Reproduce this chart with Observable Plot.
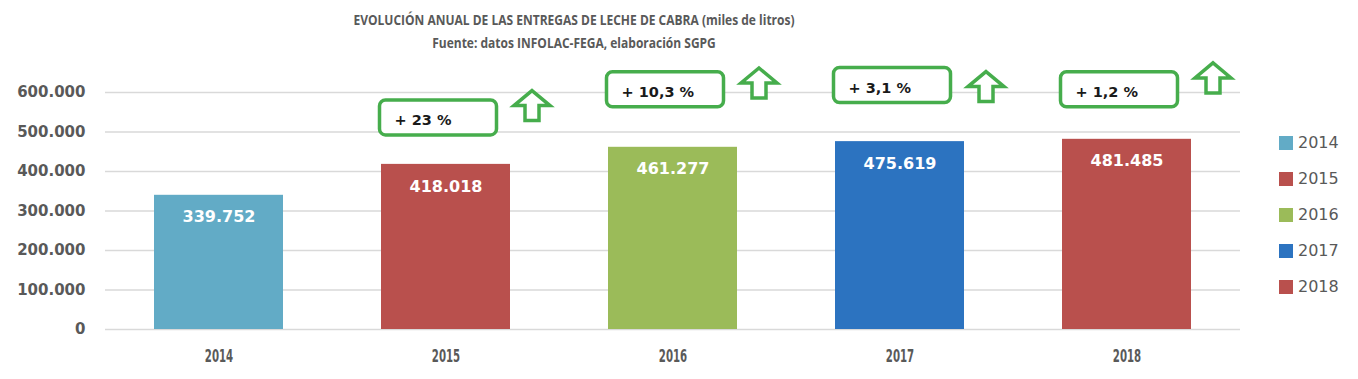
<!DOCTYPE html>
<html>
<head>
<meta charset="utf-8">
<script src="https://cdn.jsdelivr.net/npm/d3@7"></script>
<script src="https://cdn.jsdelivr.net/npm/@observablehq/plot@0.6"></script>
<style>
  html, body { margin: 0; padding: 0; background: #fff; }
  #wrap { position: relative; width: 1358px; height: 379px; overflow: hidden; }
  #title { position: absolute; left: 0; top: 8px; width: 1148px; text-align: center;
    font-family: "Open Sans", sans-serif; font-weight: bold;
    font-size: 15px; line-height: 23px; color: #595959;
    transform: scaleX(0.8); transform-origin: center top; }
  #chart { position: absolute; left: 0; top: 58px; }
  #legend { position: absolute; left: 1279px; top: 133px; font-family: "DejaVu Sans", sans-serif;
    font-size: 16px; color: #595959; }
  #legend .item { height: 36px; display: flex; align-items: flex-start; }
  #legend .sw { width: 14px; height: 14px; margin-right: 5px; margin-top: 3px; }
</style>
</head>
<body>
<div id="wrap">
  <div id="title">EVOLUCIÓN ANUAL DE LAS ENTREGAS DE LECHE DE CABRA (miles de litros)<br>Fuente: datos INFOLAC-FEGA, elaboración SGPG</div>
  <div id="chart"></div>
  <div id="legend"></div>
</div>
<script>
// ---- data ----
const years = ["2014", "2015", "2016", "2017", "2018"];
const values = [339752, 418018, 461277, 475619, 481485];
const yTicks = [0, 100000, 200000, 300000, 400000, 500000, 600000];
const annoYears = ["2015", "2016", "2017", "2018"];
const annoLabels = ["+ 23 %", "+ 10,3 %", "+ 3,1 %", "+ 1,2 %"];
const annoBoxY = [537000, 608000, 619000, 608000];
const annoArrowY = [567000, 624000, 615000, 637000];

// ---- styles ----
const palette = ["#62abc6", "#b9504d", "#9bbb59", "#2c73c0", "#b9504d"];
const green = "#46ad4c";
const textGrey = "#595959";

const bars = years.map((y, i) => ({year: y, value: values[i]}));
const annos = annoYears.map((y, i) => ({year: y, label: annoLabels[i], boxY: annoBoxY[i], arrowY: annoArrowY[i]}));
const fmt = v => d3.format(",")(v).replace(/,/g, ".");

const boxDx = -8, boxW = 117, boxH = 35;
const arrowDx = 86;

const boxSymbol = {
  draw(ctx) {
    const w = boxW, h = boxH, r = 6, x0 = -w / 2, y0 = -h / 2;
    ctx.moveTo(x0 + r, y0);
    ctx.lineTo(x0 + w - r, y0);
    ctx.arcTo(x0 + w, y0, x0 + w, y0 + r, r);
    ctx.lineTo(x0 + w, y0 + h - r);
    ctx.arcTo(x0 + w, y0 + h, x0 + w - r, y0 + h, r);
    ctx.lineTo(x0 + r, y0 + h);
    ctx.arcTo(x0, y0 + h, x0, y0 + h - r, r);
    ctx.lineTo(x0, y0 + r);
    ctx.arcTo(x0, y0, x0 + r, y0, r);
    ctx.closePath();
  }
};
const arrowSymbol = {
  draw(ctx) {
    const hw = 18, sw = 7, top = -15, mid = 0, bot = 15;
    ctx.moveTo(0, top);
    ctx.lineTo(hw, mid);
    ctx.lineTo(sw, mid);
    ctx.lineTo(sw, bot);
    ctx.lineTo(-sw, bot);
    ctx.lineTo(-sw, mid);
    ctx.lineTo(-hw, mid);
    ctx.closePath();
  }
};

const chart = Plot.plot({
  width: 1358,
  height: 321,
  marginLeft: 105,
  marginRight: 118,
  marginTop: 34,
  marginBottom: 50,
  style: {fontFamily: "DejaVu Sans, sans-serif", color: textGrey, background: "#fff", overflow: "visible"},
  x: {domain: years, paddingInner: 0.43, paddingOuter: 0.215},
  y: {domain: [0, 600000]},
  color: {domain: years, range: palette},
  marks: [
    Plot.gridY(yTicks, {stroke: "#d9d9d9", strokeOpacity: 1, strokeWidth: 1.5}),
    Plot.axisY(yTicks, {tickSize: 0, tickPadding: 20, tickFormat: fmt, fontSize: 15, fontWeight: "bold", label: null, fill: textGrey}),
    Plot.axisX({tickSize: 0, tickPadding: 20, fontSize: 17, fontWeight: "bold", label: null, fill: textGrey}),
    Plot.barY(bars, {x: "year", y: "value", fill: "year"}),
    Plot.text(bars, {x: "year", y: "value", text: d => fmt(d.value), dy: 22, fill: "white", fontSize: 16, fontWeight: "bold"}),
    Plot.dot(annos, {x: "year", y: "boxY", dx: boxDx, symbol: boxSymbol, r: 10, stroke: green, strokeWidth: 3.5, fill: "white"}),
    Plot.text(annos, {x: "year", y: "boxY", text: "label", dx: boxDx - boxW / 2 + 15, dy: 3, textAnchor: "start", fontSize: 14.5, fontWeight: "bold", fill: "#1a1a1a"}),
    Plot.dot(annos, {x: "year", y: "arrowY", dx: arrowDx, symbol: arrowSymbol, r: 10, stroke: green, strokeWidth: 3.5, fill: "white", strokeLinejoin: "miter"})
  ]
});
document.getElementById("chart").appendChild(chart);

// condense x tick labels like the reference
chart.querySelectorAll('g[aria-label="x-axis tick label"] text').forEach(t => {
  const tr = t.getAttribute("transform") || "";
  t.setAttribute("transform", tr + " scale(0.6,1)");
});

// legend
const legend = document.getElementById("legend");
years.forEach((y, i) => {
  const item = document.createElement("div");
  item.className = "item";
  item.innerHTML = `<div class="sw" style="background:${palette[i]}"></div><span>${y}</span>`;
  legend.appendChild(item);
});
</script>
</body>
</html>
